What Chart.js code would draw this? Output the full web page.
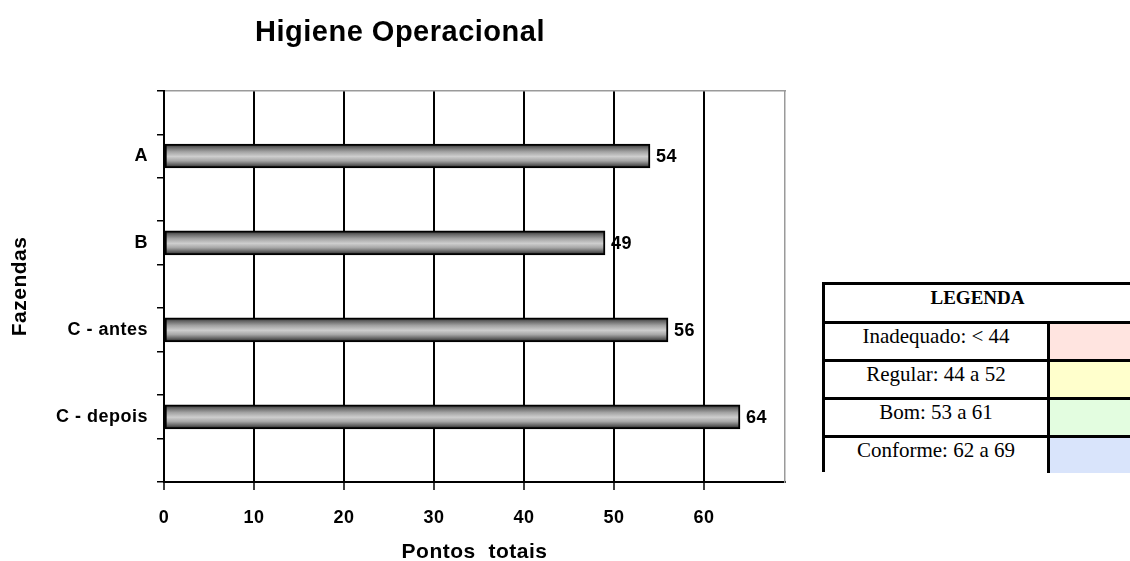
<!DOCTYPE html>
<html lang="pt">
<head>
<meta charset="utf-8">
<title>Higiene Operacional</title>
<script src="https://cdn.jsdelivr.net/npm/chart.js@4.4.1/dist/chart.umd.min.js"></script>
<style>
  html, body { margin: 0; padding: 0; background: #fff; width: 1130px; height: 561px; overflow: hidden; }
  #wrap { position: absolute; left: 0; top: 0; width: 800px; height: 561px; }
  #legend {
    position: absolute; left: 822px; top: 282px; width: 340px; height: 190px;
    box-sizing: border-box; border-top: 3px solid #000; border-left: 3px solid #000;
    font-family: "Liberation Serif", "Times New Roman", serif; color: #000;
  }
  #legend .head {
    height: 35px; border-bottom: 3px solid #000; text-align: center;
    font-weight: bold; font-size: 19px; line-height: 24px; padding-top: 1px; box-sizing: content-box;
    width: 305px;
  }
  #legend .row { display: flex; height: 35px; border-bottom: 3px solid #000; }
  #legend .row:last-child { border-bottom: none; }
  #legend .txt {
    width: 222px; border-right: 3px solid #000; text-align: center;
    font-size: 21px; line-height: 24px; white-space: nowrap;
  }
  #legend .sw { flex: 1; }
</style>
</head>
<body>
<div id="wrap"><canvas id="c"></canvas></div>
<div id="legend"><div class="head">LEGENDA</div></div>
<script>
// Farms and their total hygiene scores
const farms  = ['A', 'B', 'C - antes', 'C - depois'];
const scores = [54, 49, 56, 64];

// Score axis
const xMin = 0;
const xMax = 69;
const xStep = 10;

// Rating bands shown in the legend table
const bandLabels = ['Inadequado: < 44', 'Regular: 44 a 52', 'Bom: 53 a 61', 'Conforme: 62 a 69'];
const bandColors = ['#ffe4e0', '#ffffcc', '#e3fde0', '#d9e4fb'];

// Category slots: each farm sits between empty spacer rows
const slotLabels = [''];
const slotValues = [null];
farms.forEach((f, i) => {
  slotLabels.push(f); slotValues.push(scores[i]);
  slotLabels.push(''); slotValues.push(null);
});

// Legend table rows
const legend = document.getElementById('legend');
bandLabels.forEach((lbl, i) => {
  const row = document.createElement('div');
  row.className = 'row';
  const t = document.createElement('div');
  t.className = 'txt'; t.textContent = lbl;
  const s = document.createElement('div');
  s.className = 'sw'; s.style.background = bandColors[i];
  row.appendChild(t); row.appendChild(s);
  legend.appendChild(row);
});

const SANS = '"Liberation Sans", Arial, Helvetica, sans-serif';
const BAR_H = 24;

// Cylinder-like shading across each bar's thickness
function barShade(ctx) {
  const chart = ctx.chart;
  const y = chart.scales && chart.scales.y;
  if (!y || ctx.type !== 'data' || y.top === undefined) return '#b0b0b0';
  const c = y.getPixelForValue(ctx.dataIndex);
  const g = chart.ctx.createLinearGradient(0, c - BAR_H / 2, 0, c + BAR_H / 2);
  g.addColorStop(0.00, '#2a2a2a');
  g.addColorStop(0.14, '#666666');
  g.addColorStop(0.32, '#a2a2a2');
  g.addColorStop(0.52, '#cecece');
  g.addColorStop(0.70, '#a6a6a6');
  g.addColorStop(0.86, '#626262');
  g.addColorStop(1.00, '#202020');
  return g;
}

// Slightly looser text tracking for all canvas text
const tracking = {
  id: 'tracking',
  beforeDraw(chart) {
    if ('letterSpacing' in chart.ctx) chart.ctx.letterSpacing = '0.5px';
  }
};

// Value written just past the end of each bar
const valueLabels = {
  id: 'valueLabels',
  afterDatasetsDraw(chart) {
    const { ctx } = chart;
    const meta = chart.getDatasetMeta(0);
    ctx.save();
    ctx.font = 'bold 18px ' + SANS;
    ctx.fillStyle = '#000';
    ctx.textAlign = 'left';
    ctx.textBaseline = 'middle';
    meta.data.forEach((bar, i) => {
      const v = slotValues[i];
      if (v === null || v === undefined) return;
      ctx.fillText(String(v), bar.x + 6, bar.y + 1);
    });
    ctx.restore();
  }
};

new Chart(document.getElementById('c'), {
  type: 'bar',
  data: {
    labels: slotLabels,
    datasets: [{
      data: slotValues,
      backgroundColor: barShade,
      borderColor: '#000',
      borderWidth: 2,
      borderSkipped: false,
      barThickness: BAR_H
    }]
  },
  options: {
    indexAxis: 'y',
    responsive: true,
    maintainAspectRatio: false,
    animation: false,
    events: [],
    layout: { padding: { left: 15, right: 15, top: 0, bottom: 0 } },
    plugins: {
      legend: { display: false },
      tooltip: { enabled: false },
      title: {
        display: true,
        text: 'Higiene Operacional',
        color: '#000',
        font: { family: SANS, size: 29, weight: 'bold', lineHeight: 1.2 },
        padding: { top: 16, bottom: 40 }
      }
    },
    scales: {
      x: {
        type: 'linear',
        position: 'bottom',
        min: xMin,
        max: xMax,
        afterFit(scale) { scale.height = 79; },
        ticks: {
          stepSize: xStep,
          includeBounds: false,
          color: '#000',
          padding: 17,
          font: { family: SANS, size: 18, weight: 'bold' }
        },
        grid: { color: '#000', lineWidth: 2, tickLength: 8, tickColor: '#000', tickWidth: 1.5 },
        border: { display: true, color: '#000', width: 2 },
        title: {
          display: true,
          text: 'Pontos  totais',
          color: '#000',
          font: { family: SANS, size: 21, weight: 'bold', lineHeight: '18px' },
          padding: { top: 0, bottom: 0 }
        }
      },
      x2: {
        type: 'linear',
        position: 'top',
        min: xMin,
        max: xMax,
        afterFit(scale) { scale.height = 0; },
        ticks: { display: false },
        grid: { display: false },
        border: { display: true, color: '#9a9a9a', width: 1.5 }
      },
      y: {
        type: 'category',
        position: 'left',
        afterFit(scale) { scale.width = 149; },
        ticks: {
          autoSkip: false,
          color: '#000',
          padding: 9,
          font: { family: SANS, size: 18, weight: 'bold' }
        },
        grid: {
          offset: true,
          drawOnChartArea: false,
          drawTicks: true,
          tickLength: 7,
          color: '#000',
          lineWidth: 1.5
        },
        border: { display: true, color: '#000', width: 2 },
        title: {
          display: true,
          text: 'Fazendas',
          color: '#000',
          font: { family: SANS, size: 21, weight: 'bold', lineHeight: '10px' },
          padding: { top: 0, bottom: 0 }
        }
      },
      y2: {
        type: 'linear',
        position: 'right',
        min: 0,
        max: 1,
        afterFit(scale) { scale.width = 0; },
        ticks: { display: false },
        grid: { display: false },
        border: { display: true, color: '#9a9a9a', width: 1.5 }
      }
    }
  },
  plugins: [tracking, valueLabels]
});
</script>
</body>
</html>
